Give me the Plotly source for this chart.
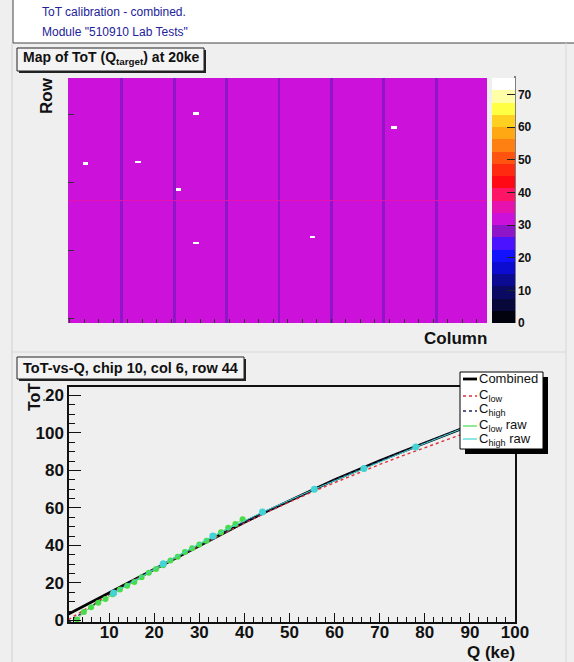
import numpy as np
import plotly.graph_objects as go

W, H = 574, 662
def px(x): return x / W
def py(y): return 1 - y / H

# ---------------- data: ToT map (module, 144 columns x 320 rows) ----------------
N_COLS = 144
N_ROWS = 320
BASE_TOT = 31.0
CHIP_EDGE_COLS = [18, 36, 54, 72, 90, 108, 126]
EDGE_TOT = 28.0
MID_ROWS = [159, 160]
MID_TOT = 36.0
HOT_COLS = [5, 23, 37, 43, 43, 83, 111]
HOT_ROWS = [208, 210, 174, 273, 104, 112, 255]
HOT_TOT = [73, 73, 72, 73, 72, 73, 73]

# colour bands of the palette (0 .. 75 ToT)
BAND_COLORS = ["#02020e", "#08083a", "#0a0a62", "#0b0b92", "#0c0cd0", "#1212ff",
               "#4a12ff", "#8e16c8", "#cc12da", "#e612b0", "#ff1466", "#ff0a14",
               "#ff2a10", "#ff5410", "#ff8012", "#ffa814", "#ffd020", "#ffff44",
               "#ffffa8", "#ffffff"]
Z_MAX = 75.0

# ---------------- data: ToT vs Q ----------------
Q_FIT = [1, 5, 10, 15, 20, 25, 30, 35, 40, 45, 50, 55, 60, 65, 70, 75, 80, 85, 90, 95, 100]
TOT_COMBINED = [3.5, 8.5, 14.8, 21.2, 27.5, 33.8, 40.0, 46.3, 52.4, 58.2, 64.0, 69.5, 75.0,
                80.2, 85.2, 90.0, 94.8, 99.5, 104.0, 108.5, 113.0]
TOT_CLOW = [0.5, 6.5, 13.8, 20.8, 27.3, 33.6, 39.8, 46.0, 52.0, 57.8, 63.2, 68.5, 73.5,
            78.5, 83.2, 87.8, 92.2, 96.5, 100.8, 104.8, 108.8]
TOT_CHIGH = [-1.0, 5.8, 13.8, 20.8, 27.2, 33.5, 39.8, 46.3, 52.4, 58.3, 64.0, 69.6, 75.0,
             80.2, 85.2, 90.0, 94.8, 99.5, 104.0, 108.5, 113.0]
Q_LOW_RAW = [2.9, 4.4, 6.0, 7.6, 9.2, 10.8, 12.4, 14.0, 15.6, 17.2, 18.8, 20.4, 22.0,
             23.6, 25.2, 26.8, 28.4, 30.0, 31.6, 33.2, 34.8, 36.4, 38.0, 39.6]
TOT_LOW_RAW = [0.5, 4.5, 7.0, 9.5, 11.5, 14.0, 16.5, 18.5, 20.5, 23.0, 25.5, 27.5, 29.5,
               32.0, 34.0, 36.5, 38.5, 40.5, 42.5, 45.0, 47.0, 49.5, 51.5, 54.0]
Q_HIGH_RAW = [11, 22, 33, 44, 55.5, 66.5, 78, 89, 100]
TOT_HIGH_RAW = [14.7, 30.2, 45.0, 57.8, 70.0, 81.0, 92.5, 103.0, 113.0]

SERIES_NAMES = ["Combined", "C<sub>low</sub>", "C<sub>high</sub>",
                "C<sub>low</sub> raw", "C<sub>high</sub> raw"]

# ---------------- build map ----------------
z = np.full((N_ROWS, N_COLS), BASE_TOT)
for c in CHIP_EDGE_COLS:
    z[:, c] = EDGE_TOT
for r in MID_ROWS:
    z[r, :] = MID_TOT
for c, r, v in zip(HOT_COLS, HOT_ROWS, HOT_TOT):
    z[r - 1:r + 2, c:c + 2] = v

n = len(BAND_COLORS)
cscale = []
for i, col in enumerate(BAND_COLORS):
    cscale.append([i / n, col])
    cscale.append([(i + 1) / n, col])

BG = "#efefef"
FONT = "Liberation Sans, Arial, sans-serif"

fig = go.Figure()

fig.add_trace(go.Heatmap(
    z=z, x=np.arange(N_COLS), y=np.arange(N_ROWS),
    colorscale=cscale, zmin=0, zmax=Z_MAX, xaxis="x", yaxis="y",
    showscale=True, hoverinfo="skip", showlegend=False,
    colorbar=dict(x=px(492), xanchor="left", y=py(200.5), yanchor="middle",
                  len=245, lenmode="pixels", thickness=23, thicknessmode="pixels",
                  xpad=0, ypad=0, outlinewidth=0,
                  tickvals=[0, 10, 20, 30, 40, 50, 60, 70], ticks="inside",
                  ticklen=8, tickcolor="#222",
                  tickfont=dict(family=FONT, size=12, color="#111", weight="bold")),
))

styles = [
    dict(color="black", width=2.8, dash="solid"),
    dict(color="#e0303a", width=1.4, dash="dot"),
    dict(color="#26265e", width=1.4, dash="dot"),
    dict(color="#48dd48", width=1.2, dash="solid"),
    dict(color="#44d4d4", width=1.2, dash="solid"),
]
fig.add_trace(go.Scatter(x=Q_FIT, y=TOT_COMBINED, mode="lines", name=SERIES_NAMES[0],
                         line=styles[0], xaxis="x2", yaxis="y2"))
fig.add_trace(go.Scatter(x=Q_FIT, y=TOT_CLOW, mode="lines", name=SERIES_NAMES[1],
                         line=styles[1], xaxis="x2", yaxis="y2"))
fig.add_trace(go.Scatter(x=Q_FIT, y=TOT_CHIGH, mode="lines", name=SERIES_NAMES[2],
                         line=styles[2], xaxis="x2", yaxis="y2"))
fig.add_trace(go.Scatter(x=Q_LOW_RAW, y=TOT_LOW_RAW, mode="lines+markers", name=SERIES_NAMES[3],
                         line=dict(color=styles[3]["color"], width=1),
                         marker=dict(color=styles[3]["color"], size=6), xaxis="x2", yaxis="y2"))
fig.add_trace(go.Scatter(x=Q_HIGH_RAW, y=TOT_HIGH_RAW, mode="lines+markers", name=SERIES_NAMES[4],
                         line=dict(color=styles[4]["color"], width=1),
                         marker=dict(color=styles[4]["color"], size=7), xaxis="x2", yaxis="y2"))

shapes = []
# header box
shapes.append(dict(type="rect", xref="paper", yref="paper", x0=px(13), x1=px(576), y0=py(43), y1=py(-2),
                   fillcolor="white", line=dict(color="#444", width=1), layer="below"))
# pad borders
shapes.append(dict(type="line", xref="paper", yref="paper", x0=px(12), x1=px(12), y0=py(662), y1=py(43),
                   line=dict(color="#d0d0d0", width=1), layer="below"))
shapes.append(dict(type="line", xref="paper", yref="paper", x0=px(12), x1=px(566), y0=py(352), y1=py(352),
                   line=dict(color="#d8d8d8", width=1), layer="below"))
shapes.append(dict(type="line", xref="paper", yref="paper", x0=px(566), x1=px(566), y0=py(662), y1=py(43),
                   line=dict(color="#d8d8d8", width=1), layer="below"))
# title boxes with shadow
for (x0, y0, x1, y1) in [(17, 48, 204, 71), (17, 357, 244, 379)]:
    shapes.append(dict(type="rect", xref="paper", yref="paper", x0=px(x0 + 2), x1=px(x1 + 2),
                       y0=py(y1 + 2), y1=py(y0 + 2), fillcolor="#222", line=dict(width=0), layer="below"))
    shapes.append(dict(type="rect", xref="paper", yref="paper", x0=px(x0), x1=px(x1),
                       y0=py(y1), y1=py(y0), fillcolor="#f4f4f4", line=dict(color="#222", width=1), layer="below"))
# colorbar axis line
shapes.append(dict(type="line", xref="paper", yref="paper", x0=px(515), x1=px(515), y0=py(323), y1=py(76),
                   line=dict(color="#111", width=1)))

# legend box (ROOT-style, with drop shadow)
LX0, LY0, LX1, LY1 = 460, 372, 543, 449
shapes.append(dict(type="rect", xref="paper", yref="paper", x0=px(LX0 + 5), x1=px(LX1 + 5),
                   y0=py(LY1 + 5), y1=py(LY0 + 5), fillcolor="black", line=dict(width=0), layer="above"))
shapes.append(dict(type="rect", xref="paper", yref="paper", x0=px(LX0), x1=px(LX1),
                   y0=py(LY1), y1=py(LY0), fillcolor="white", line=dict(color="black", width=1), layer="above"))
sample_y = [379, 396, 411, 426, 439]
label_y = [379, 395, 410, 425, 439]
ann = []
for name, st, sy, ly in zip(SERIES_NAMES, styles, sample_y, label_y):
    shapes.append(dict(type="line", xref="paper", yref="paper", x0=px(463), x1=px(477),
                       y0=py(sy), y1=py(sy), layer="above",
                       line=dict(color=st["color"], width=st["width"], dash=st["dash"])))
    ann.append(dict(text=name, x=px(478), y=py(ly), xref="paper", yref="paper",
                    xanchor="left", yanchor="middle", showarrow=False, borderpad=0,
                    font=dict(family=FONT, size=13, color="#111")))

ann.append(dict(text="ToT calibration - combined.", x=px(40), y=py(12), xref="paper", yref="paper",
                xanchor="left", yanchor="middle", showarrow=False,
                font=dict(family=FONT, size=12, color="#22229a")))
ann.append(dict(text="Module \"510910 Lab Tests\"", x=px(40), y=py(32), xref="paper", yref="paper",
                xanchor="left", yanchor="middle", showarrow=False,
                font=dict(family=FONT, size=12, color="#22229a")))
ann.append(dict(text="Map of ToT (Q<sub>target</sub>) at 20ke", x=px(21), y=py(58), xref="paper", yref="paper",
                xanchor="left", yanchor="middle", showarrow=False,
                font=dict(family=FONT, size=14, color="#111", weight="bold")))
ann.append(dict(text="ToT-vs-Q, chip 10, col 6, row 44", x=px(21), y=py(368), xref="paper", yref="paper",
                xanchor="left", yanchor="middle", showarrow=False,
                font=dict(family=FONT, size=14.5, color="#111", weight="bold")))
ann.append(dict(text="Row", x=px(46), y=py(96), xref="paper", yref="paper", textangle=-90,
                xanchor="center", yanchor="middle", showarrow=False,
                font=dict(family=FONT, size=17, color="#111", weight="bold")))
ann.append(dict(text="Column", x=px(489), y=py(338), xref="paper", yref="paper",
                xanchor="right", yanchor="middle", showarrow=False,
                font=dict(family=FONT, size=17, color="#111", weight="bold")))
ann.append(dict(text="Q (ke)", x=px(517), y=py(652), xref="paper", yref="paper",
                xanchor="right", yanchor="middle", showarrow=False,
                font=dict(family=FONT, size=17, color="#111", weight="bold")))
ann.append(dict(text="ToT", x=px(35), y=py(397), xref="paper", yref="paper", textangle=-90,
                xanchor="center", yanchor="middle", showarrow=False, bgcolor=BG, borderpad=0,
                font=dict(family=FONT, size=16, color="#111", weight="bold")))

fig.update_layout(
    width=W, height=H, margin=dict(l=0, r=0, t=0, b=0, pad=0, autoexpand=False),
    paper_bgcolor=BG, plot_bgcolor=BG,
    font=dict(family=FONT, color="#111"),
    shapes=shapes, annotations=ann, showlegend=False,
    xaxis=dict(domain=[px(68), px(487)], range=[-0.5, N_COLS - 0.5], showticklabels=False,
               ticks="inside", ticklen=4, dtick=5, tick0=0, tickcolor="#333",
               showgrid=False, zeroline=False, showline=False),
    yaxis=dict(domain=[py(323), py(78)], range=[-0.5, N_ROWS - 0.5], showticklabels=False,
               ticks="inside", ticklen=6, tickvals=[5, 94, 183, 272], tickcolor="#333",
               showgrid=False, zeroline=False, showline=False),
    xaxis2=dict(domain=[px(69), px(515)], range=[1.1, 100], anchor="y2",
                tickvals=[10, 20, 30, 40, 50, 60, 70, 80, 90, 100], ticks="inside", ticklen=9,
                minor=dict(dtick=2, tick0=0, ticks="inside", ticklen=5, tickcolor="#111"),
                tickcolor="#111", showline=True, linecolor="#111", linewidth=1.5, mirror=True,
                showgrid=False, zeroline=False, ticklabelstandoff=-6,
                tickfont=dict(family=FONT, size=17, color="#111", weight="bold")),
    yaxis2=dict(domain=[py(622), py(387)], range=[-0.8, 124.5], anchor="x2",
                tickvals=[0, 20, 40, 60, 80, 100, 120], ticks="inside", ticklen=12,
                minor=dict(dtick=5, tick0=0, ticks="inside", ticklen=6, tickcolor="#111"),
                tickcolor="#111", showline=True, linecolor="#111", linewidth=1.5, mirror=True,
                showgrid=False, zeroline=False,
                tickfont=dict(family=FONT, size=17, color="#111", weight="bold")),
)

fig.write_html("out.html")
